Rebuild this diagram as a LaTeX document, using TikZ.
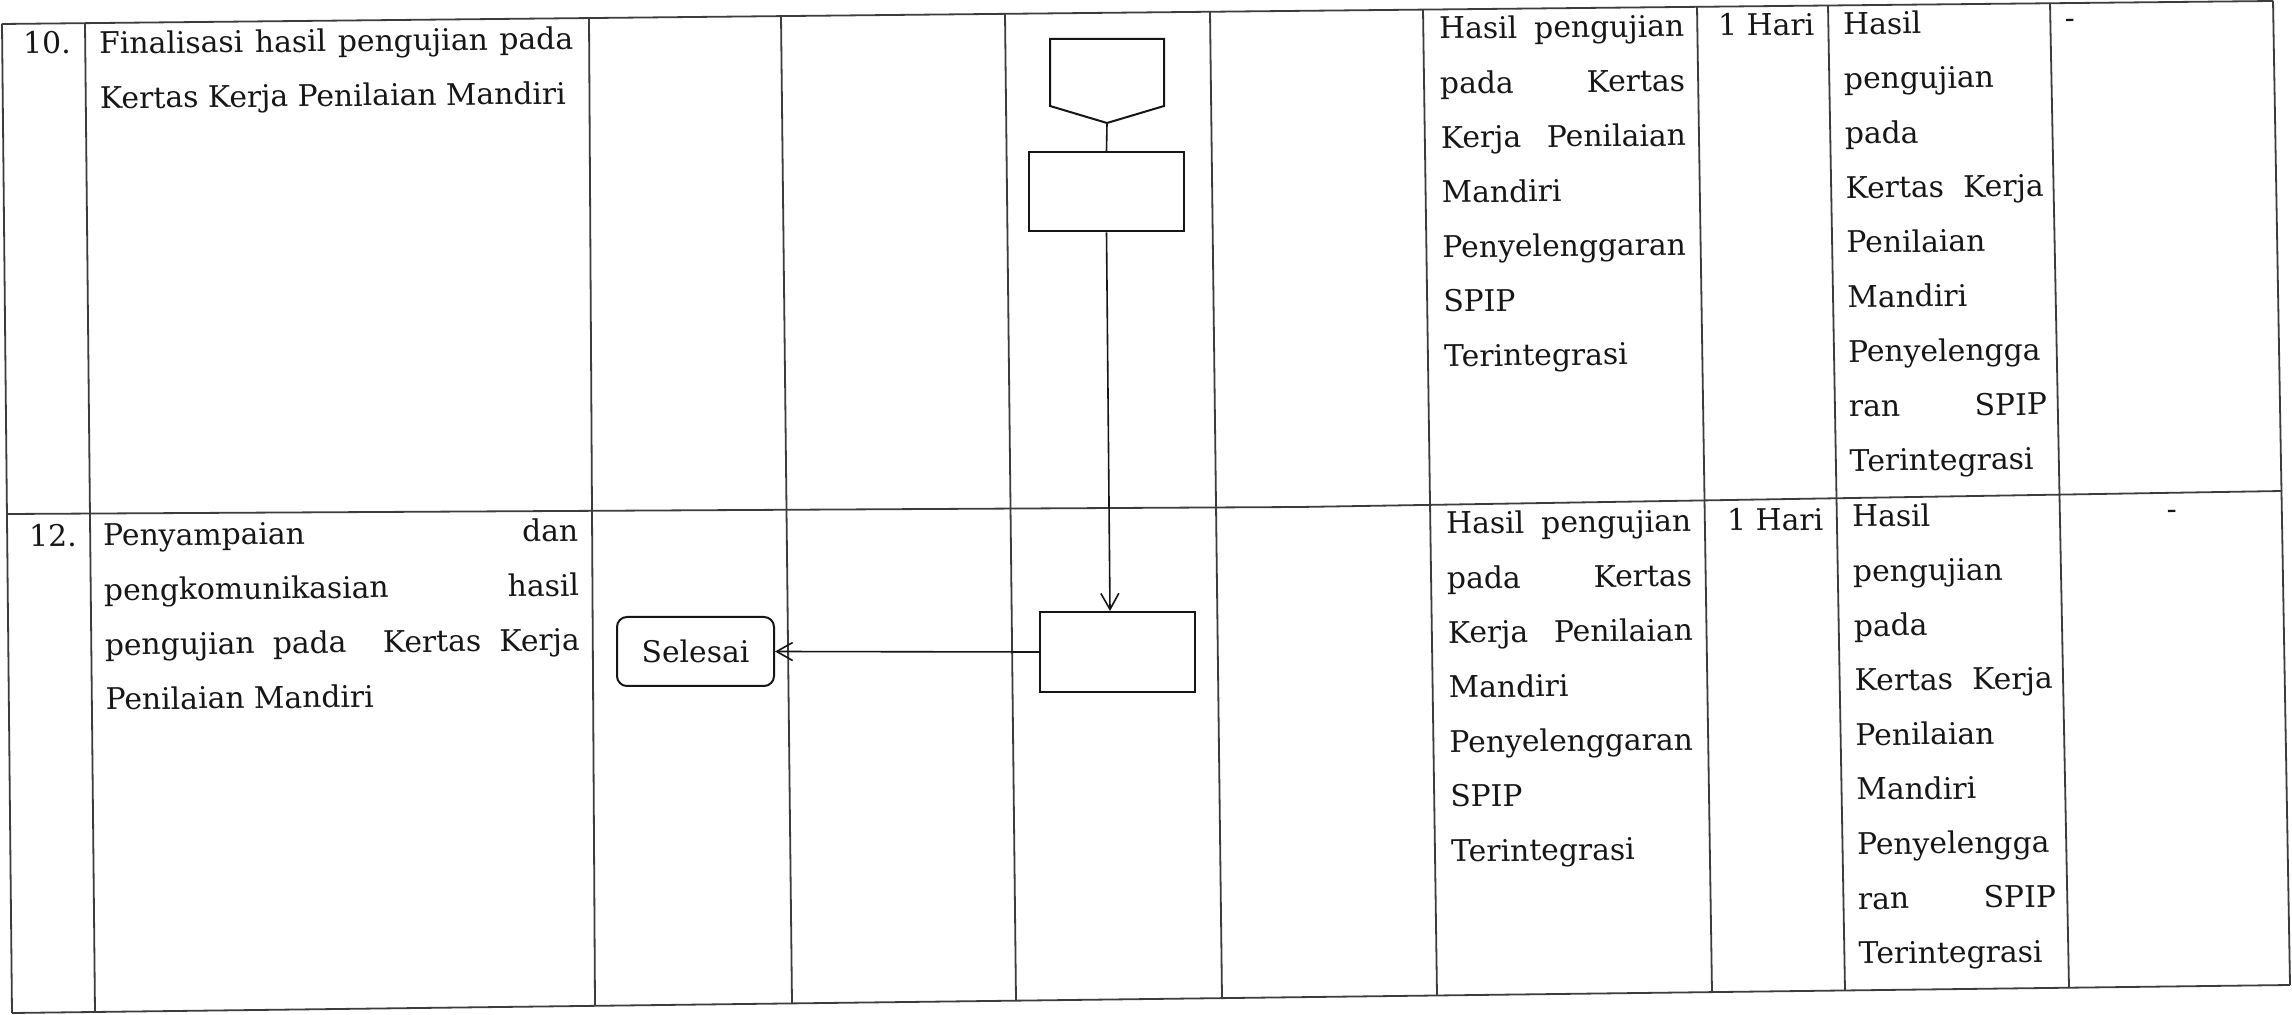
\documentclass[tikz,border=0pt]{standalone}
\usepackage{fontspec}
\setmainfont{DejaVu Serif}
\usetikzlibrary{arrows.meta}
\definecolor{ink}{RGB}{22,22,22}
\definecolor{rule}{RGB}{60,60,60}
\newcommand{\jl}[2]{\makebox[#1][s]{#2}}
\begin{document}
\begin{tikzpicture}[x=0.5pt,y=-0.5pt,
  grid/.style={draw=rule, line width=0.9pt},
  txt/.style={inner sep=0pt, anchor=base west, text=ink,
    font=\fontsize{14.9pt}{27.3pt}\selectfont,
    transform shape, xslant=-0.015, yslant=0.01},
  box/.style={draw=ink, line width=1pt, minimum width=77.5pt,
    minimum height=39.5pt, inner sep=0pt},
  shapeline/.style={draw=ink, line width=1pt},
  link/.style={draw=ink, line width=0.8pt},
  flow/.style={draw=ink, line width=0.8pt, -{Straight Barb[length=8pt,width=9pt]}},
]
\fill[white] (0,0) rectangle (2292,1015);
\useasboundingbox (0,0) rectangle (2292,1015);

% table rules
\draw[grid] (2,24) -- (2273,1);
\draw[grid] (7,514) -- (1300,507) -- (2282,491);
\draw[grid] (12,1013) -- (2290,985);
\draw[grid] (2,24) -- (12,1013);
\draw[grid] (85,23.2) -- (95,1012);
\draw[grid] (589,18.1) -- (595,1005.8);
\draw[grid] (781,16.1) -- (792,1003.4);
\draw[grid] (1005,13.8) -- (1016,1000.7);
\draw[grid] (1210,11.8) -- (1222,998.1);
\draw[grid] (1423,9.6) -- (1437,995.5);
\draw[grid] (1697,6.8) -- (1712,992.1);
\draw[grid] (1828,5.5) -- (1845,990.5);
\draw[grid] (2050,3.3) -- (2069,987.7);
\draw[grid] (2273,1) -- (2290,985);

% row 10
\node[txt] (n10) at (23,54) {10.};
\node[txt] (k10) at (99,54) {\parbox[t]{237pt}{\jl{237pt}{Finalisasi hasil pengujian pada}\\Kertas Kerja Penilaian Mandiri}};
\node[txt] (o10) at (1439,39) {\parbox[t]{122.5pt}{\jl{122.5pt}{Hasil pengujian}\\\jl{122.5pt}{pada Kertas}\\\jl{122.5pt}{Kerja Penilaian}\\Mandiri\\Penyelenggaran\\SPIP\\Terintegrasi}};
\node[txt] (w10) at (1718,36) {1 Hari};
\node[txt] (h10) at (1843,34.5) {\parbox[t]{99pt}{Hasil\\pengujian\\pada\\\jl{99pt}{Kertas Kerja}\\Penilaian\\Mandiri\\Penyelengga\\\jl{99pt}{ran SPIP}\\Terintegrasi}};
\node[txt, anchor=base] (d10) at (2070,28) {-};

% row 12
\node[txt] (n12) at (29,547) {12.};
\node[txt] (k12) at (103,546) {\parbox[t]{237.5pt}{\jl{237.5pt}{Penyampaian dan}\\\jl{237.5pt}{pengkomunikasian hasil}\\\jl{237.5pt}{pengujian pada\ \ Kertas Kerja}\\Penilaian Mandiri}};
\node[txt] (o12) at (1446,534) {\parbox[t]{122.5pt}{\jl{122.5pt}{Hasil pengujian}\\\jl{122.5pt}{pada Kertas}\\\jl{122.5pt}{Kerja Penilaian}\\Mandiri\\Penyelenggaran\\SPIP\\Terintegrasi}};
\node[txt] (w12) at (1727,531) {1 Hari};
\node[txt] (h12) at (1852,527) {\parbox[t]{99pt}{Hasil\\pengujian\\pada\\\jl{99pt}{Kertas Kerja}\\Penilaian\\Mandiri\\Penyelengga\\\jl{99pt}{ran SPIP}\\Terintegrasi}};
\node[txt, anchor=base] (d12) at (2172,519) {-};

% flowchart
\draw[shapeline] (1050,39) -- (1164,39) -- (1164,106) -- (1107,123) -- (1050,106) -- cycle;
\coordinate (ptip) at (1107,123);
\node[box] (b10) at (1106.5,192) {};
\node[box, minimum height=40pt] (b12) at (1117.5,652) {};
\node[draw=ink, line width=1pt, rounded corners=5pt, minimum width=78.5pt,
  minimum height=34.5pt, inner sep=0pt, text=ink,
  font=\fontsize{14.9pt}{27.3pt}\selectfont] (sel) at (695.5,651.5) {Selesai};
\draw[link] (ptip) -- (b10.north);
\coordinate (b12in) at ([xshift=-3.75pt]b12.north);
\draw[flow] (b10.south) -- (b12in);
\draw[flow] (b12.west) -- (sel.east);
\end{tikzpicture}
\end{document}
